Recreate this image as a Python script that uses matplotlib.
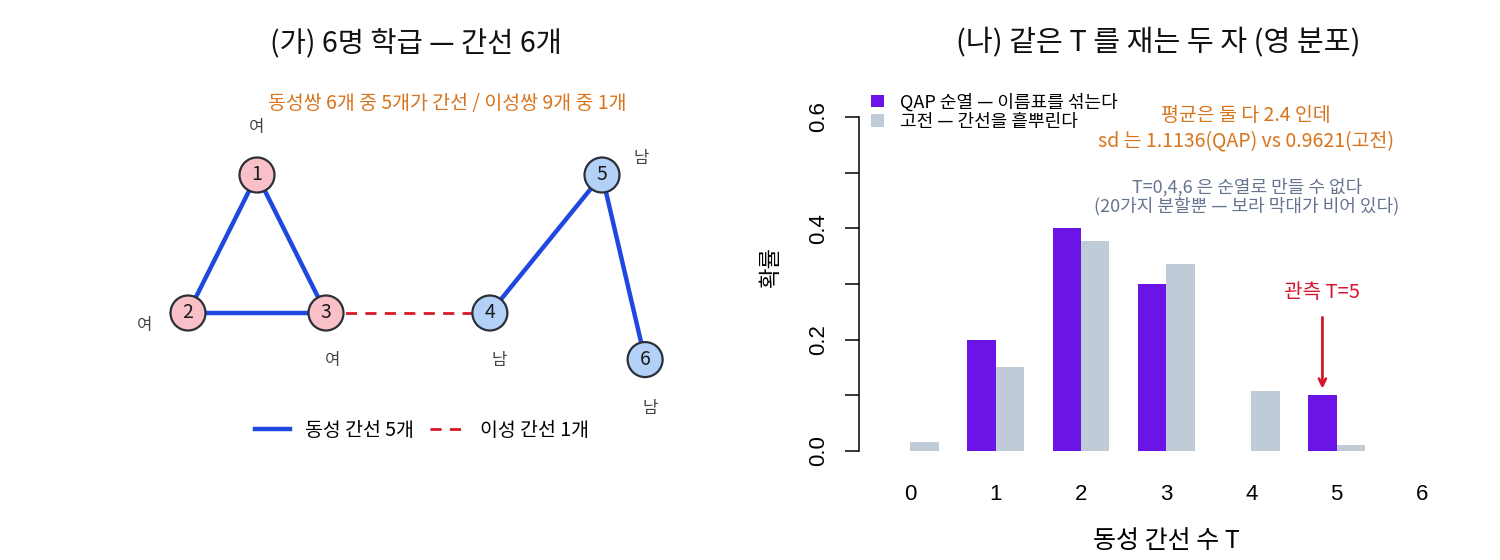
import matplotlib
matplotlib.use("Agg")
import matplotlib.pyplot as plt
from matplotlib.patches import Circle, Patch
from matplotlib.lines import Line2D
import numpy as np

plt.rcParams['font.family'] = ['Noto Sans CJK KR', 'DejaVu Sans']

# ---------------- data ----------------
node_ids = ['1', '2', '3', '4', '5', '6']
node_sex = ['여', '여', '여', '남', '남', '남']
layout_x = [0.4, 0.0, 0.8, 1.75, 2.4, 2.65]
layout_y = [0.8, 0.0, 0.0, 0.0, 0.8, -0.27]
same_edges = [(0, 1), (0, 2), (1, 2), (3, 4), (4, 5)]
cross_edges = [(2, 3)]

T_values = [0, 1, 2, 3, 4, 5, 6]
qap_prob = [0.0, 0.2, 0.4, 0.3, 0.0, 0.1, 0.0]
classic_prob = [0.0168, 0.1510, 0.3776, 0.3357, 0.1079, 0.0108, 0.0002]
observed_T = 5

# ---------------- style ----------------
PINK = '#f9c0c8'
LBLUE = '#b3d1f7'
EDGE_BLUE = '#1f48e0'
EDGE_RED = '#d7182a'
PURPLE = '#6a14e6'
GREY = '#c0cbd8'
ORANGE = '#d9731c'
SLATE = '#66758f'
RED = '#d6162e'

W, H = 1500, 560
fig = plt.figure(figsize=(W / 100, H / 100), dpi=100)

# ---------------- left panel: network ----------------
scale = 172.5  # px per layout unit
ox, oy = 188, 313
axL = fig.add_axes([0, 0, 0.5, 1])
axL.set_xlim((0 - ox) / scale, (750 - ox) / scale)
axL.set_ylim((oy - 560) / scale, (oy - 0) / scale)
axL.axis('off')

for a, b in same_edges:
    axL.plot([layout_x[a], layout_x[b]], [layout_y[a], layout_y[b]],
             color=EDGE_BLUE, lw=3.2, solid_capstyle='butt', zorder=1)
for a, b in cross_edges:
    axL.plot([layout_x[a], layout_x[b]], [layout_y[a], layout_y[b]],
             color=EDGE_RED, lw=2.0, ls=(0, (4, 3)), zorder=1)

label_offsets = [(0, 34), (-31, -9), (5, -34), (7, -34), (28, 12), (4, -35)]
r = 17.5 / scale
for i in range(len(node_ids)):
    fc = PINK if node_sex[i] == '여' else LBLUE
    axL.add_patch(Circle((layout_x[i], layout_y[i]), r, facecolor=fc,
                         edgecolor='#2b2f3a', lw=1.6, zorder=3))
    axL.text(layout_x[i], layout_y[i], node_ids[i], ha='center', va='center',
             fontsize=14, color='#1a1a1a', zorder=4)
    axL.annotate(node_sex[i], (layout_x[i], layout_y[i]),
                 xytext=label_offsets[i], textcoords='offset points',
                 ha='center', va='center', fontsize=12, color='#444444')

fig.text(416 / W, 1 - 43 / H, '(가) 6명 학급 — 간선 6개', ha='center', va='center',
         fontsize=20.5, color='#111111')
fig.text(447 / W, 1 - 104 / H, '동성쌍 6개 중 5개가 간선 / 이성쌍 9개 중 1개',
         ha='center', va='center', fontsize=14, color=ORANGE)

handles = [Line2D([], [], color=EDGE_BLUE, lw=3.2),
           Line2D([], [], color=EDGE_RED, lw=2.0, ls=(0, (4, 3)))]
axL.legend(handles, ['동성 간선 5개', '이성 간선 1개'], ncol=2, frameon=False,
           loc='center', bbox_to_anchor=(422 / W, 1 - 430 / H),
           bbox_transform=fig.transFigure, fontsize=14, handlelength=1.8,
           handletextpad=0.8, columnspacing=0.8, borderpad=0)

# ---------------- right panel: distributions ----------------
ax = fig.add_axes([859.3 / W, 1 - 464.4 / H, (1473 - 859.3) / W, (464.4 - 103.6) / H])
groups = np.arange(len(T_values))
x_qap = 3 * groups + 1.5
x_cls = 3 * groups + 2.5
ax.bar(x_qap, qap_prob, width=1.0, color=PURPLE, label='QAP 순열 — 이름표를 섞는다')
ax.bar(x_cls, classic_prob, width=1.0, color=GREY, label='고전 — 간선을 흩뿌린다')
ax.set_xlim(0.2, 21.8)
ax.set_ylim(-0.024, 0.624)

for s in ['top', 'right', 'bottom']:
    ax.spines[s].set_visible(False)
ax.spines['left'].set_bounds(0, 0.6)
ax.spines['left'].set_linewidth(1.1)
yt = np.round(np.arange(0, 0.61, 0.1), 1)
ax.set_yticks(yt)
ax.set_yticklabels([f'{v:.1f}' if i % 2 == 0 else '' for i, v in enumerate(yt)],
                   rotation=90, va='center', fontsize=16, family='Liberation Sans')
ax.tick_params(axis='y', direction='out', length=10, width=1.1, pad=12)
ax.set_xticks(3 * groups + 2)
ax.set_xticklabels([str(t) for t in T_values], fontsize=16, family='Liberation Sans')
ax.tick_params(axis='x', length=0, pad=14)

ax.set_xlabel('동성 간선 수 T', fontsize=18)
ax.xaxis.set_label_coords(0.5, (464.4 - 541) / (464.4 - 103.6), transform=ax.transAxes)
ax.xaxis.label.set_va('center')
ax.set_ylabel('확률', fontsize=16)
ax.yaxis.set_label_coords((771 - 859.3) / (1473 - 859.3), (464.4 - 268) / (464.4 - 103.6),
                          transform=ax.transAxes)
ax.yaxis.label.set_va('center')

ax.legend(loc='upper left', bbox_to_anchor=(871 / W, 1 - 93 / H),
          bbox_transform=fig.transFigure, frameon=False, fontsize=13,
          handlelength=0.7, handleheight=0.7, handletextpad=0.9,
          labelspacing=0.08, borderpad=0, borderaxespad=0)

ax.text(13.8, 0.602, '평균은 둘 다 2.4 인데', ha='center', va='center',
        fontsize=14, color=ORANGE)
ax.text(13.8, 0.556, 'sd 는 1.1136(QAP) vs 0.9621(고전)', ha='center', va='center',
        fontsize=14, color=ORANGE)
ax.text(13.85, 0.474, 'T=0,4,6 은 순열로 만들 수 없다', ha='center', va='center',
        fontsize=13, color=SLATE)
ax.text(13.85, 0.440, '(20가지 분할뿐 — 보라 막대가 비어 있다)', ha='center', va='center',
        fontsize=13, color=SLATE)

xo = x_qap[T_values.index(observed_T)]
ax.text(xo, 0.284, f'관측 T={observed_T}', ha='center', va='center',
        fontsize=14.5, color=RED)
ax.annotate('', xy=(xo, 0.112), xytext=(xo, 0.24),
            arrowprops=dict(arrowstyle='->,head_length=0.5,head_width=0.25',
                            color=RED, lw=2.0, shrinkA=0, shrinkB=0))

fig.text(1158 / W, 1 - 43 / H, '(나) 같은 T 를 재는 두 자 (영 분포)', ha='center',
         va='center', fontsize=21, color='#111111')

fig.savefig('out.png', dpi=100, facecolor='white')
